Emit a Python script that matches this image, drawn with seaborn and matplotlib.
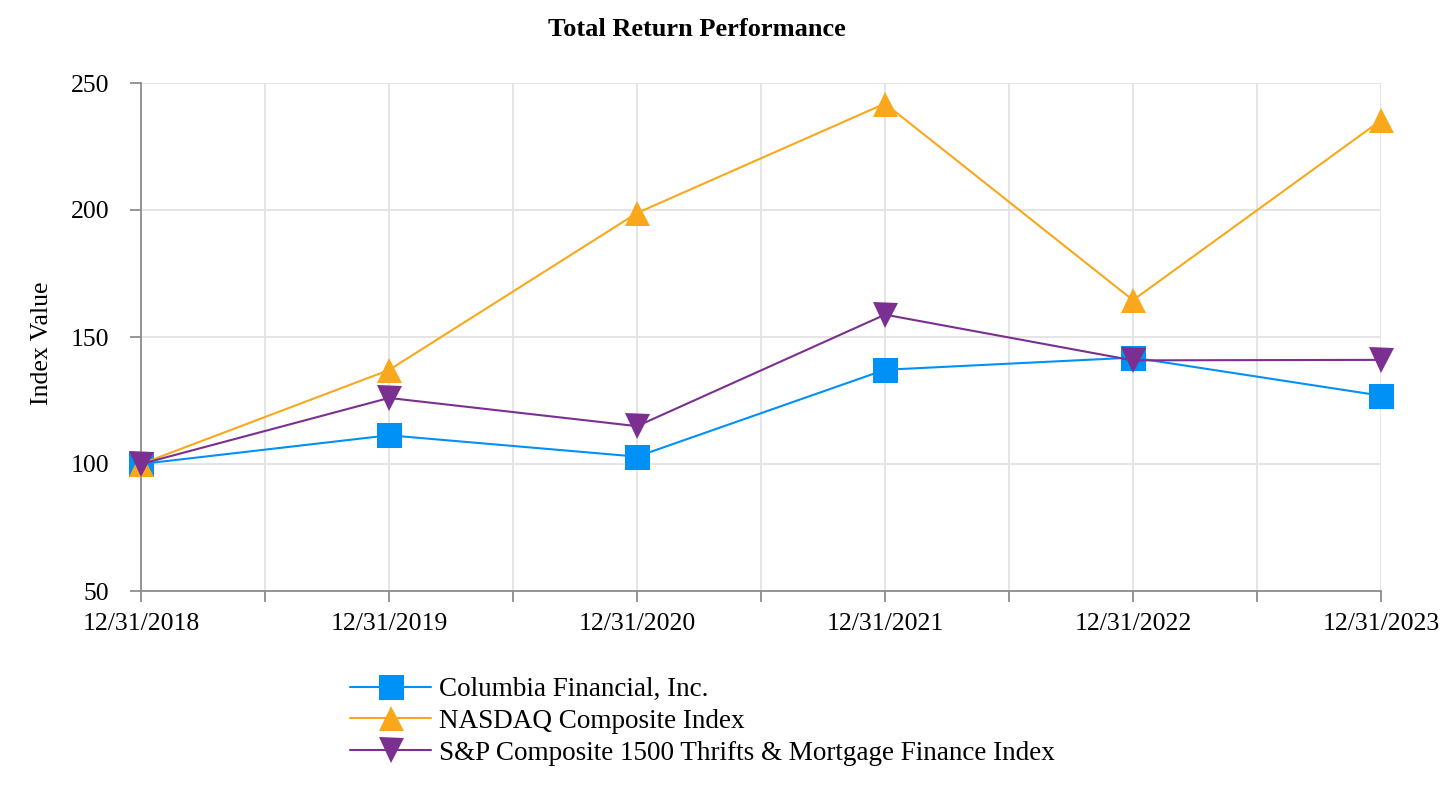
import pandas as pd
import seaborn as sns
import matplotlib.pyplot as plt
from matplotlib.ticker import MultipleLocator

dates = ["12/31/2018", "12/31/2019", "12/31/2020", "12/31/2021", "12/31/2022", "12/31/2023"]
columbia = [100, 111.3, 102.9, 137.1, 141.9, 126.9]
nasdaq = [100, 137.0, 198.8, 241.9, 164.5, 235.3]
sp1500 = [100, 126.0, 114.9, 158.8, 140.8, 141.0]

names = ["Columbia Financial, Inc.", "NASDAQ Composite Index",
         "S&P Composite 1500 Thrifts & Mortgage Finance Index"]
colors = ["#0091F6", "#F9A81B", "#7B2F90"]
marks = ["s", "^", "v"]

rows = []
for name, vals in zip(names, [columbia, nasdaq, sp1500]):
    for i, v in enumerate(vals):
        rows.append({"pos": i, "value": v, "series": name})
df = pd.DataFrame(rows)

sns.set_style("white")
plt.rcParams["font.family"] = ["Liberation Serif", "DejaVu Serif"]
plt.rcParams["text.color"] = "black"
plt.rcParams["xtick.color"] = "black"
plt.rcParams["ytick.color"] = "black"

fig = plt.figure(figsize=(14.4, 8), dpi=100)
ax = fig.add_axes([141 / 1440, 1 - 591 / 800, 1240 / 1440, 508 / 800])

sns.lineplot(data=df, x="pos", y="value", hue="series", style="series",
             palette=dict(zip(names, colors)), markers=dict(zip(names, marks)),
             dashes=False, markersize=18, markeredgewidth=0, linewidth=1.5,
             ax=ax, legend=False, zorder=3, clip_on=False)

ax.set_xlim(0, 5)
ax.set_ylim(50, 250)
ax.set_xticks(range(6))
ax.set_xticklabels(dates)
ax.xaxis.set_minor_locator(MultipleLocator(0.5))
ax.yaxis.set_major_locator(MultipleLocator(50))
ax.grid(True, which="both", axis="x", color="#E3E3E3", linewidth=1.3)
ax.grid(True, which="major", axis="y", color="#E3E3E3", linewidth=1.3)
ax.set_axisbelow(True)
for s in ["top", "right"]:
    ax.spines[s].set_visible(False)
for s in ["left", "bottom"]:
    ax.spines[s].set_color("#8C8C8C")
    ax.spines[s].set_linewidth(1.3)
ax.tick_params(axis="x", which="both", direction="out", length=8, width=1.3,
               color="#8C8C8C", labelcolor="black", labelsize=18.5, pad=8, bottom=True)
ax.tick_params(axis="y", direction="out", length=8, width=1.3,
               color="#8C8C8C", labelcolor="black", labelsize=18.5, pad=15, left=True)
ax.set_xlabel("")
ax.set_ylabel("")

fig.text(42 / 1440, 1 - 343 / 800, "Index Value", rotation=90, fontsize=18.5,
         ha="center", va="center")
fig.text(697 / 1440, 1 - 30 / 800, "Total Return Performance", fontsize=19,
         fontweight="bold", ha="center", va="center")

handles = [plt.Line2D([], [], color=c, marker=m, markersize=18, markeredgewidth=0,
                      linewidth=1.5) for c, m in zip(colors, marks)]
fig.legend(handles, names, loc="upper left", bbox_to_anchor=(350 / 1440, 1 - 677 / 800),
           frameon=False, fontsize=19.5, handlelength=3.0, handletextpad=0.3,
           labelspacing=0.25, borderaxespad=0, borderpad=0)

fig.savefig("out.png", dpi=100)
